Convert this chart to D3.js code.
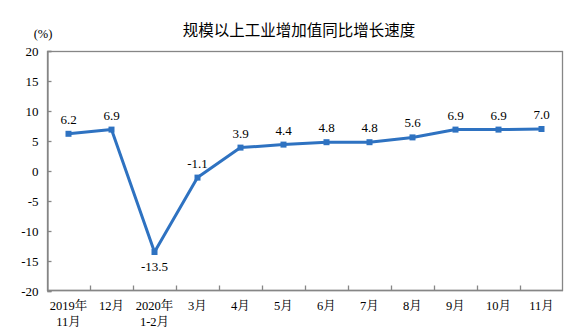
<!DOCTYPE html>
<html><head><meta charset="utf-8">
<script src="https://cdn.jsdelivr.net/npm/d3@7"></script>
<style>body{margin:0;background:#fff}svg{display:block}</style>
</head><body>
<svg id="c" width="576" height="336"></svg>
<script>
const categories = ["2019年\n11月","12月","2020年\n1-2月","3月","4月","5月","6月","7月","8月","9月","10月","11月"];
const values = [6.2,6.9,-13.5,-1.1,3.9,4.4,4.8,4.8,5.6,6.9,6.9,7.0];
const yTicks = [20,15,10,5,0,-5,-10,-15,-20];
const title = "规模以上工业增加值同比增长速度";
const unit = "(%)";

const svg = d3.select("#c");
const m = {l:47, r:563, t:51, b:291};
const serif = "'Liberation Serif','Times New Roman','Noto Serif CJK SC','Noto Sans CJK SC',serif";
const x = d3.scaleBand().domain(categories).range([m.l, m.r]).padding(0);
const y = d3.scaleLinear().domain([-20,20]).range([m.b, m.t]);
const axisColor = "#868686";
const fmtInt = d => String(d);
const fmt1 = d => d.toFixed(1);

// frame
svg.append("rect").attr("x",m.l+0.5).attr("y",m.t+0.5).attr("width",m.r-m.l-1).attr("height",m.b-m.t-1)
  .attr("fill","none").attr("stroke",axisColor).attr("stroke-width",1.3);

// y axis
const ya = svg.append("g").attr("transform",`translate(${m.l+0.5},0)`)
  .call(d3.axisLeft(y).tickValues(yTicks).tickSize(-4).tickPadding(9).tickFormat(fmtInt));
ya.select(".domain").attr("stroke",axisColor).attr("stroke-width",1.3);
ya.selectAll(".tick line").attr("stroke",axisColor).attr("stroke-width",1.3);
ya.selectAll("text").attr("font-family",serif).attr("font-size",13).attr("fill","#000");

// x axis ticks at boundaries
const xa = svg.append("g").attr("transform",`translate(0,${m.b-0.5})`);
xa.append("line").attr("x1",m.l).attr("x2",m.r).attr("stroke",axisColor).attr("stroke-width",1.3);
categories.slice(1).forEach(c=>{
  const xx = Math.round(x(c))+0.5;
  xa.append("line").attr("x1",xx).attr("x2",xx).attr("y1",0).attr("y2",-5).attr("stroke",axisColor).attr("stroke-width",1.3);
});
categories.forEach(c=>{
  const lines = c.split("\n");
  const t = xa.append("text").attr("text-anchor","middle").attr("font-family",serif).attr("font-size",12.5).attr("fill","#000");
  lines.forEach((s,i)=>{
    t.append("tspan").attr("x",x(c)+x.bandwidth()/2).attr("y",19+i*16).text(s);
  });
});

// title
svg.append("text").attr("x",299).attr("y",36).attr("text-anchor","middle")
  .attr("font-family","'Noto Sans CJK SC',sans-serif").attr("font-size",15.5).attr("fill","#000").text(title);
svg.append("text").attr("x",43).attr("y",38).attr("text-anchor","middle")
  .attr("font-family",serif).attr("font-size",12.5).attr("fill","#000").text(unit);

// line
const cx = (d,i)=>x(categories[i])+x.bandwidth()/2;
const color = "#2e72c1";
svg.append("path").datum(values)
  .attr("d", d3.line().x((d,i)=>cx(d,i)).y(d=>y(d)))
  .attr("fill","none").attr("stroke",color).attr("stroke-width",3).attr("stroke-linejoin","round");
svg.selectAll(".pt").data(values).enter().append("rect")
  .attr("x",(d,i)=>cx(d,i)-3).attr("y",d=>y(d)-3).attr("width",6).attr("height",6).attr("fill",color);

// labels
svg.selectAll(".lbl").data(values).enter().append("text")
  .attr("x",(d,i)=>cx(d,i)).attr("y",d=> d<-10 ? y(d)+19 : y(d)-10)
  .attr("text-anchor","middle").attr("font-family",serif).attr("font-size",13).attr("fill","#000")
  .text(fmt1);
</script>
</body></html>
